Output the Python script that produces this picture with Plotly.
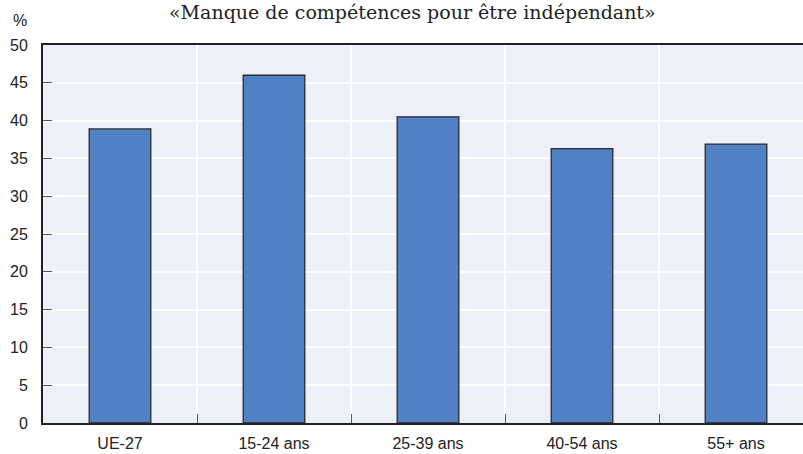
import plotly.graph_objects as go

categories = ["UE-27", "15-24 ans", "25-39 ans", "40-54 ans", "55+ ans"]
values = [38.9, 46.0, 40.5, 36.3, 36.9]
title_text = "«Manque de compétences pour être indépendant»"
y_ticks = list(range(0, 51, 5))

sans = "Liberation Sans, Arial, sans-serif"

fig = go.Figure()
fig.add_trace(go.Bar(
    x=categories, y=values, width=0.4,
    marker=dict(color="#4F81C4", line=dict(color="#2B2B2B", width=1.3)),
))

fig.update_layout(
    width=803, height=454,
    paper_bgcolor="white",
    plot_bgcolor="#EEF0F9",
    margin=dict(l=43, r=0, t=45, b=31),
    showlegend=False,
    font=dict(family=sans, size=16, color="#222"),
)
fig.update_xaxes(
    type="category", range=[-0.5, 4.435],
    tickson="boundaries", ticks="inside", ticklen=9, tickcolor="#555",
    showgrid=True, gridcolor="white", gridwidth=1.5,
    showline=True, linecolor="#222", linewidth=2, mirror=True,
    ticklabelstandoff=5,
    tickfont=dict(family=sans, size=16),
)
fig.update_yaxes(
    range=[0, 50], tickvals=y_ticks,
    ticks="inside", ticklen=9, tickcolor="#555",
    showgrid=True, gridcolor="white", gridwidth=1.5,
    showline=True, linecolor="#222", linewidth=2,
    zeroline=False,
    ticklabelstandoff=10,
    tickfont=dict(family=sans, size=16),
)

# title sits right at the top edge, as in the source
fig.add_annotation(text=title_text, xref="paper", yref="paper", x=0.486, y=1,
                   yshift=33, xanchor="center", yanchor="middle", showarrow=False,
                   font=dict(family="DejaVu Serif, serif", size=19, color="#222"))
fig.add_annotation(text="%", xref="paper", yref="paper", x=0, y=1,
                   xshift=-23, yshift=25, xanchor="center", yanchor="middle",
                   showarrow=False, font=dict(family=sans, size=16))

fig.write_html("out.html", config={"displayModeBar": False},
               post_script="document.body.style.margin='0';")
